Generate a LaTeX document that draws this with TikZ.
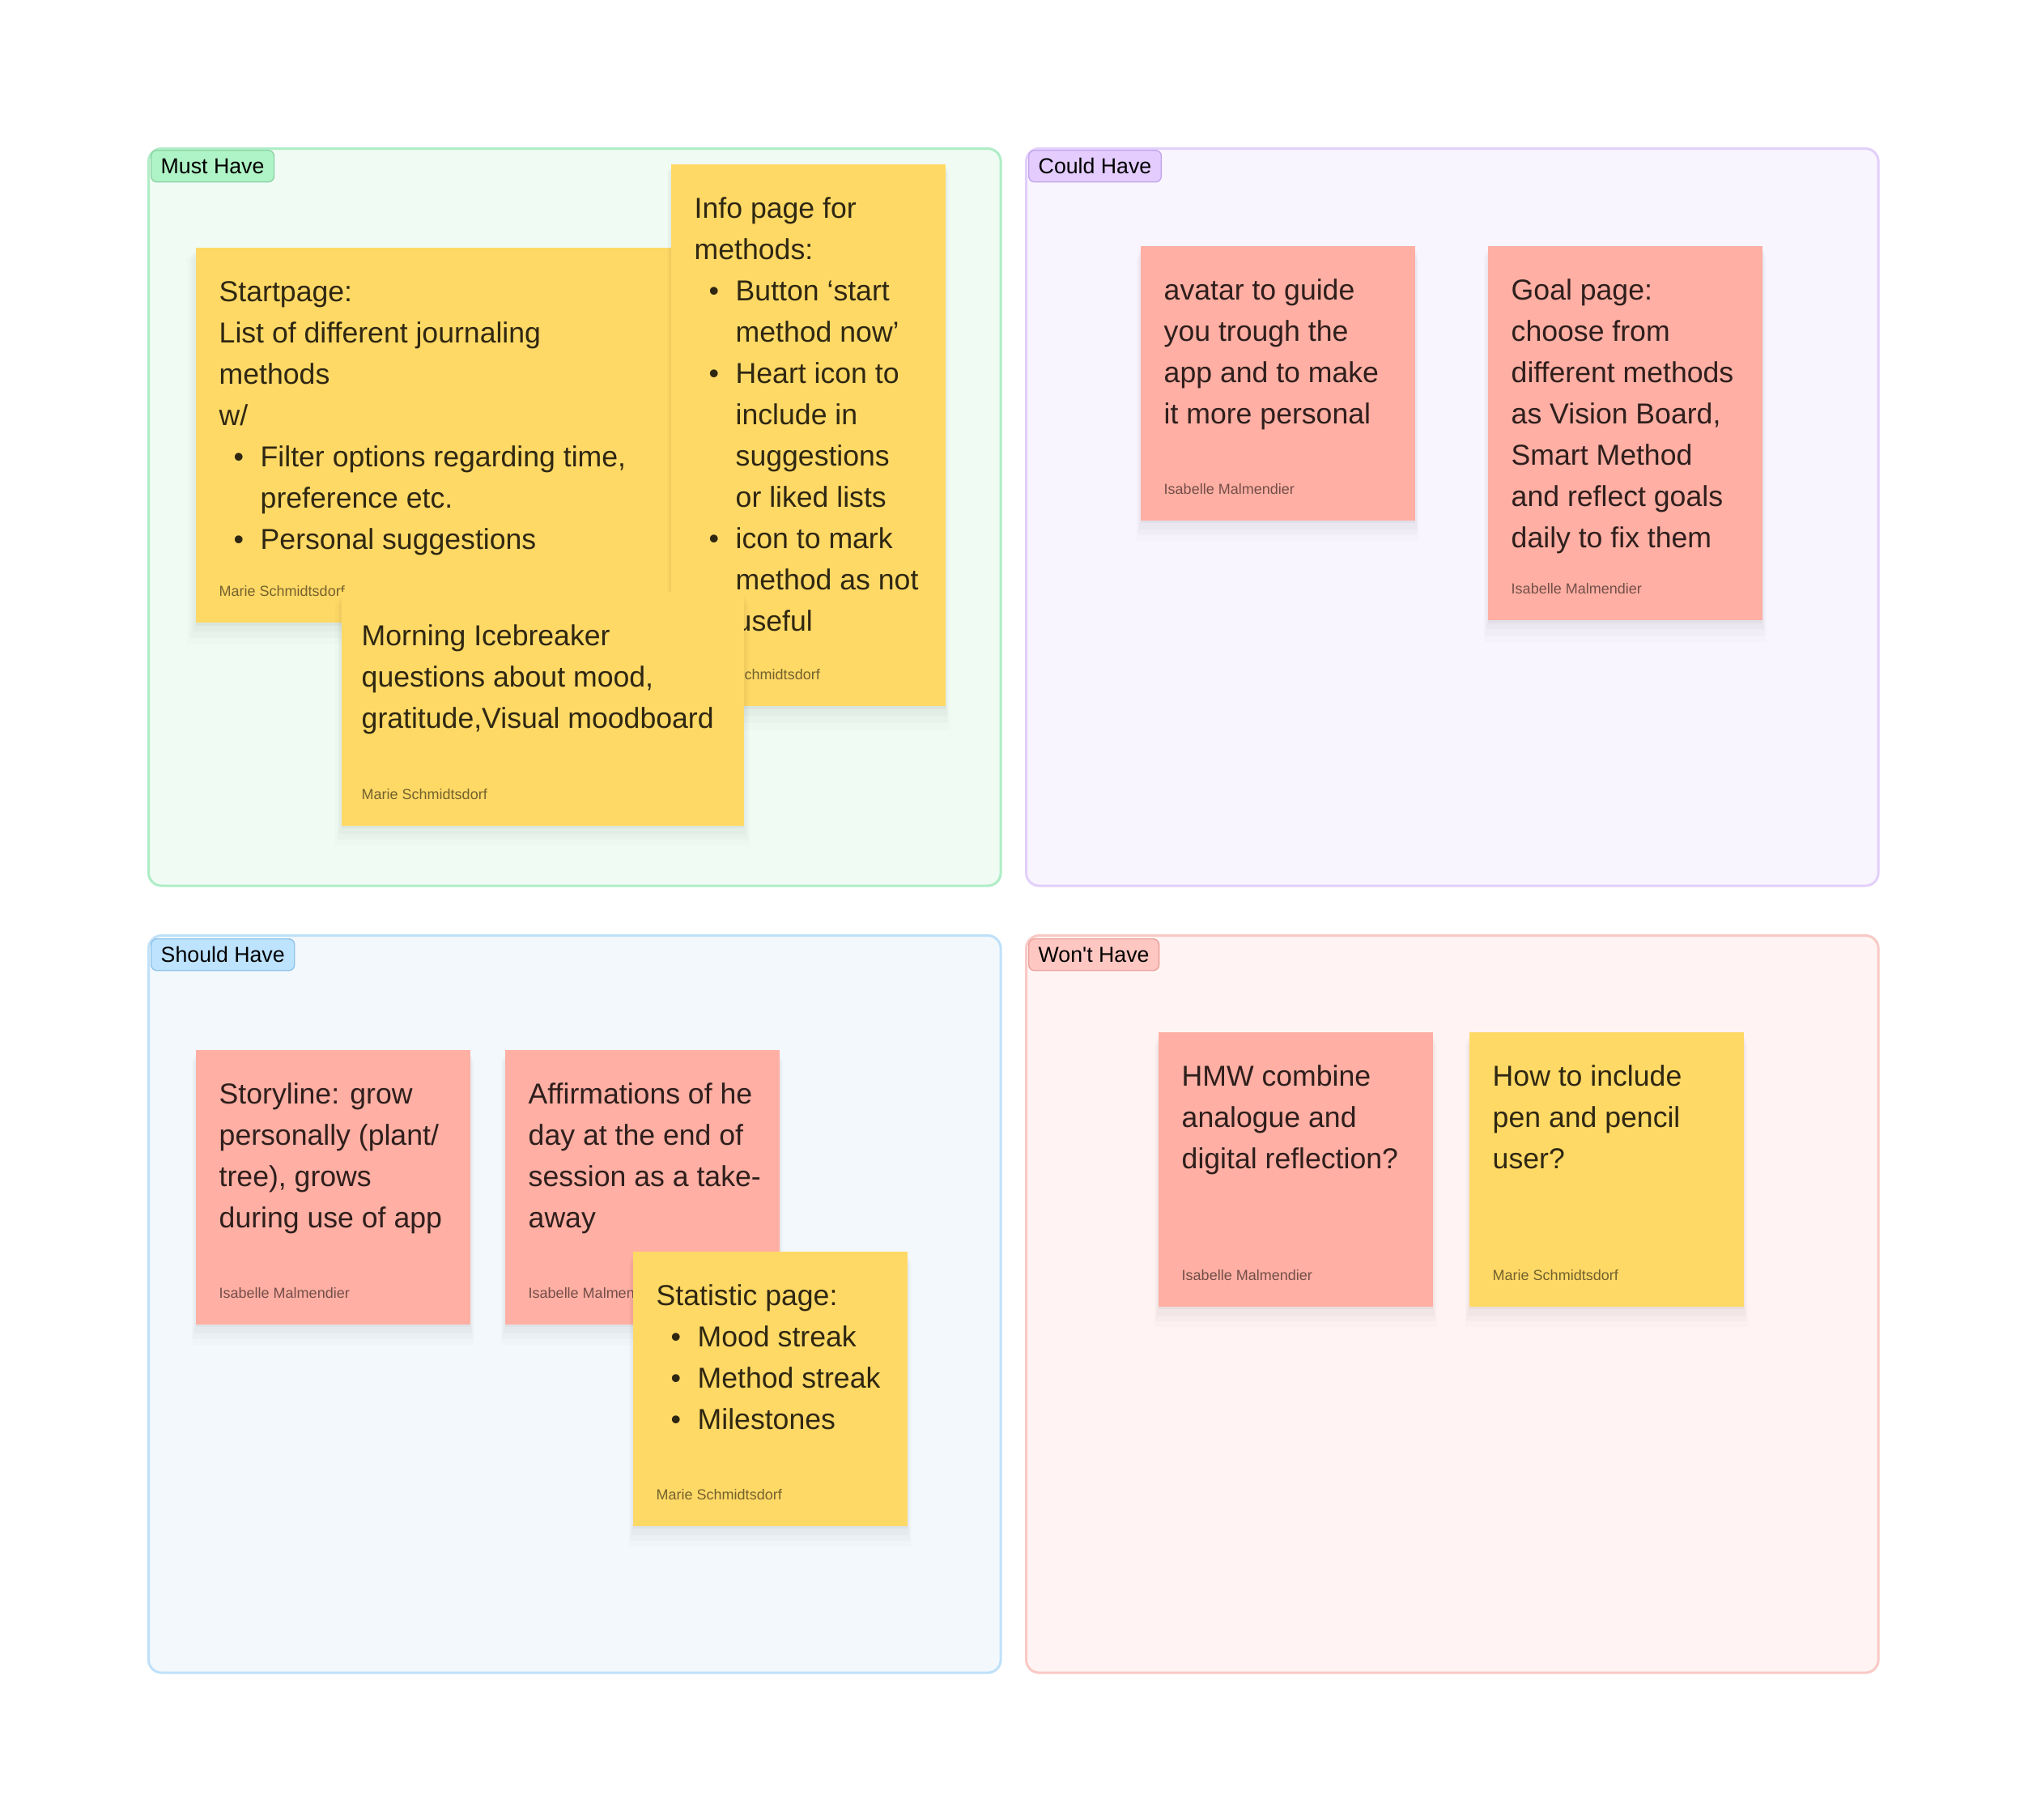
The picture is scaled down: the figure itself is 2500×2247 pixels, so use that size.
\documentclass[tikz,border=0pt]{standalone}
\usepackage{fontspec}
\setmainfont{Liberation Sans}
\usetikzlibrary{positioning}
\usetikzlibrary{shadows}

\definecolor{mustbg}{HTML}{F0FBF4}
\definecolor{mustline}{HTML}{AEEDC6}
\definecolor{musttag}{HTML}{AFF4C6}
\definecolor{musttagline}{HTML}{8CD3A6}
\definecolor{couldbg}{HTML}{F8F5FE}
\definecolor{couldline}{HTML}{E2CFFB}
\definecolor{couldtag}{HTML}{E4CCFF}
\definecolor{couldtagline}{HTML}{C4A7EB}
\definecolor{shouldbg}{HTML}{F3F8FD}
\definecolor{shouldline}{HTML}{BFE1F8}
\definecolor{shouldtag}{HTML}{BDE3FF}
\definecolor{shouldtagline}{HTML}{8EC4EB}
\definecolor{wontbg}{HTML}{FFF4F3}
\definecolor{wontline}{HTML}{F9C9C5}
\definecolor{wonttag}{HTML}{FFC7C2}
\definecolor{wonttagline}{HTML}{EBA39D}
\definecolor{noteyellow}{HTML}{FFD966}
\definecolor{notered}{HTML}{FFAFA3}

\newlength\pxu
\setlength\pxu{0.01cm}
\newcommand\notefont{\fontsize{10.13pt}{14.5pt}\selectfont}
\newcommand\byfont{\fontsize{5.12pt}{6pt}\selectfont}
\newcommand\tagfont{\fontsize{7.6pt}{9pt}\selectfont}
\newcommand\itm{\makebox[51\pxu][l]{\hspace{18\pxu}\textbullet}}
\newcommand\ind{\hspace*{51\pxu}}

\tikzset{
  frame/.style={anchor=north west, inner sep=0, minimum width=10.52cm,
    minimum height=9.10cm, rounded corners=0.16cm, line width=0.03cm},
  tag/.style={anchor=north west, inner xsep=0.12cm, inner ysep=0,
    minimum height=0.39cm, rounded corners=0.07cm, line width=0.4pt,
    font=\tagfont, text=black},
  noteshadow/.style={
    drop shadow={shadow xshift=0pt, shadow yshift=-5.5pt, shadow scale=1.03, opacity=.012, fill=black},
    drop shadow={shadow xshift=0pt, shadow yshift=-4pt, shadow scale=1.02, opacity=.018, fill=black},
    drop shadow={shadow xshift=0pt, shadow yshift=-2.5pt, shadow scale=1.01, opacity=.025, fill=black},
    drop shadow={shadow xshift=0pt, shadow yshift=-1pt, opacity=.03, fill=black}},
  note/.style={anchor=north west, inner sep=0, minimum width=3.39cm,
    minimum height=3.39cm, noteshadow},
  yellownote/.style={note, fill=noteyellow},
  rednote/.style={note, fill=notered},
  notetxt/.style={anchor=north west, inner sep=0, align=left, font=\notefont,
    text=black, text opacity=.82},
  author/.style={anchor=base west, inner sep=0, font=\byfont, text=black,
    text opacity=.55}
}

\begin{document}
\begin{tikzpicture}[x=0.01cm, y=-0.01cm]
    \useasboundingbox (0,0) rectangle (2500,2247);
    \fill[white] (0,0) rectangle (2500,2247);

    % the four sections
    \node[frame, draw=mustline, fill=mustbg] (must) at (182,182) {};
    \node[frame, draw=couldline, fill=couldbg] (could) at (1266,182) {};
    \node[frame, draw=shouldline, fill=shouldbg] (should) at (182,1154) {};
    \node[frame, draw=wontline, fill=wontbg] (wont) at (1266,1154) {};
    \node[tag, draw=musttagline, fill=musttag] (musttag) at ([shift={(4,3)}]must.north west) {Must Have};
    \node[tag, draw=couldtagline, fill=couldtag] (couldtag) at ([shift={(4,3)}]could.north west) {Could Have};
    \node[tag, draw=shouldtagline, fill=shouldtag] (shouldtag) at ([shift={(4,5)}]should.north west) {Should Have};
    \node[tag, draw=wonttagline, fill=wonttag] (wonttag) at ([shift={(4,5)}]wont.north west) {Won\textquotesingle t Have};

    % must have
    \node[yellownote, minimum width=7.16cm, minimum height=4.63cm] (startpage) at (241,305) {};
    \node[notetxt] (startpage-txt) at ([shift={(29,31)}]startpage.north west)
      {\strut Startpage:\\ List of different journaling\\ methods\\ w/\\
       \itm Filter options regarding time,\\ \ind preference etc.\\ \itm Personal suggestions};
    \node[author] (startpage-by) at ([shift={(29,-33)}]startpage.south west) {Marie Schmidtsdorf};

    \node[yellownote, minimum height=6.69cm] (info) at (828,202) {};
    \node[notetxt] (info-txt) at ([shift={(29,31)}]info.north west)
      {\strut Info page for\\ methods:\\ \itm Button ‘start\\ \ind method now’\\
       \itm Heart icon to\\ \ind include in\\ \ind suggestions\\ \ind or liked lists\\
       \itm icon to mark\\ \ind method as not\\ \ind useful};
    \node[author] (info-by) at ([shift={(29,-33)}]info.south west) {Marie Schmidtsdorf};

    \node[yellownote, minimum width=4.97cm, minimum height=2.89cm] (morning) at (421,730) {};
    \node[notetxt] (morning-txt) at ([shift={(25,31)}]morning.north west)
      {\strut Morning Icebreaker\\ questions about mood,\\ gratitude,Visual moodboard};
    \node[author] (morning-by) at ([shift={(25,-33)}]morning.south west) {Marie Schmidtsdorf};

    % could have
    \node[rednote] (avatar) at (1408,303) {};
    \node[notetxt] (avatar-txt) at ([shift={(29,31)}]avatar.north west)
      {\strut avatar to guide\\ you trough the\\ app and to make\\ it more personal};
    \node[author] (avatar-by) at ([shift={(29,-33)}]avatar.south west) {Isabelle Malmendier};

    \node[rednote, minimum height=4.62cm] (goal) at (1837,303) {};
    \node[notetxt] (goal-txt) at ([shift={(29,31)}]goal.north west)
      {\strut Goal page:\\ choose from\\ different methods\\ as Vision Board,\\
       Smart Method\\ and reflect goals\\ daily to fix them};
    \node[author] (goal-by) at ([shift={(29,-33)}]goal.south west) {Isabelle Malmendier};

    % should have
    \node[rednote] (story) at (241,1296) {};
    \node[notetxt] (story-txt) at ([shift={(29,31)}]story.north west)
      {\strut Storyline: grow\\ personally (plant/\\ tree), grows\\ during use of app};
    \node[author] (story-by) at ([shift={(29,-33)}]story.south west) {Isabelle Malmendier};

    \node[rednote] (affirm) at (623,1296) {};
    \node[notetxt] (affirm-txt) at ([shift={(29,31)}]affirm.north west)
      {\strut Affirmations of he\\ day at the end of\\ session as a take-\\ away};
    \node[author] (affirm-by) at ([shift={(29,-33)}]affirm.south west) {Isabelle Malmendier};

    \node[yellownote] (stats) at (781,1545) {};
    \node[notetxt] (stats-txt) at ([shift={(29,31)}]stats.north west)
      {\strut Statistic page:\\ \itm Mood streak\\ \itm Method streak\\ \itm Milestones};
    \node[author] (stats-by) at ([shift={(29,-33)}]stats.south west) {Marie Schmidtsdorf};

    % won't have
    \node[rednote] (hmw) at (1430,1274) {};
    \node[notetxt] (hmw-txt) at ([shift={(29,31)}]hmw.north west)
      {\strut HMW combine\\ analogue and\\ digital reflection?};
    \node[author] (hmw-by) at ([shift={(29,-33)}]hmw.south west) {Isabelle Malmendier};

    \node[yellownote] (pen) at (1814,1274) {};
    \node[notetxt] (pen-txt) at ([shift={(29,31)}]pen.north west)
      {\strut How to include\\ pen and pencil\\ user?};
    \node[author] (pen-by) at ([shift={(29,-33)}]pen.south west) {Marie Schmidtsdorf};
\end{tikzpicture}
\end{document}
